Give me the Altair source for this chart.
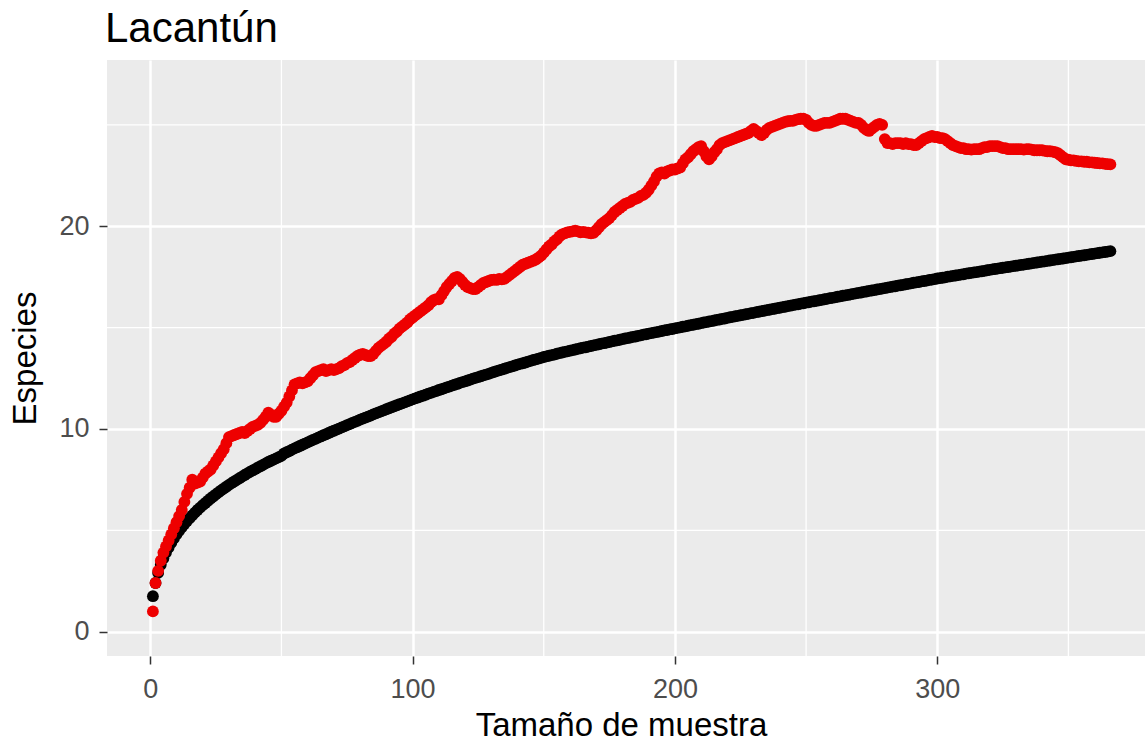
import altair as alt
import pandas as pd

# Species accumulation: expected (black) and observed (red) counts per sample size
especies_esperadas = [
    1.75, 2.40, 2.90, 3.30, 3.62, 3.90, 4.15, 4.38, 4.60, 4.80,
    4.98, 5.15, 5.31, 5.46, 5.60, 5.74, 5.87, 6.00, 6.12, 6.24,
    6.35, 6.46, 6.57, 6.67, 6.77, 6.87, 6.97, 7.06, 7.15, 7.24,
    7.33, 7.41, 7.49, 7.57, 7.65, 7.73, 7.81, 7.88, 7.95, 8.02,
    8.09, 8.16, 8.23, 8.30, 8.37, 8.43, 8.49, 8.55, 8.61, 8.67,
    8.79, 8.85, 8.91, 8.98, 9.04, 9.10, 9.16, 9.22, 9.28, 9.34,
    9.40, 9.46, 9.51, 9.57, 9.63, 9.69, 9.74, 9.80, 9.86, 9.91,
    9.97, 10.02, 10.08, 10.13, 10.19, 10.24, 10.30, 10.35, 10.40, 10.46,
    10.51, 10.56, 10.61, 10.66, 10.72, 10.77, 10.82, 10.87, 10.92, 10.97,
    11.02, 11.07, 11.12, 11.17, 11.22, 11.26, 11.31, 11.36, 11.41, 11.46,
    11.51, 11.55, 11.60, 11.64, 11.69, 11.74, 11.78, 11.83, 11.87, 11.92,
    11.96, 12.00, 12.05, 12.09, 12.14, 12.18, 12.22, 12.27, 12.31, 12.35,
    12.39, 12.43, 12.48, 12.52, 12.56, 12.60, 12.64, 12.68, 12.72, 12.77,
    12.81, 12.85, 12.89, 12.93, 12.97, 13.01, 13.05, 13.09, 13.13, 13.17,
    13.21, 13.24, 13.28, 13.32, 13.36, 13.40, 13.43, 13.47, 13.51, 13.55,
    13.58, 13.61, 13.64, 13.67, 13.71, 13.74, 13.77, 13.80, 13.83, 13.86,
    13.89, 13.92, 13.95, 13.98, 14.01, 14.03, 14.06, 14.09, 14.12, 14.15,
    14.18, 14.21, 14.23, 14.26, 14.29, 14.32, 14.35, 14.37, 14.40, 14.43,
    14.46, 14.48, 14.51, 14.54, 14.56, 14.59, 14.62, 14.65, 14.67, 14.70,
    14.73, 14.75, 14.78, 14.80, 14.83, 14.86, 14.88, 14.91, 14.93, 14.96,
    14.99, 15.01, 15.04, 15.06, 15.09, 15.12, 15.14, 15.17, 15.19, 15.22,
    15.25, 15.27, 15.30, 15.32, 15.35, 15.38, 15.40, 15.43, 15.45, 15.48,
    15.51, 15.53, 15.56, 15.58, 15.61, 15.63, 15.66, 15.68, 15.71, 15.73,
    15.76, 15.78, 15.81, 15.83, 15.86, 15.88, 15.91, 15.93, 15.96, 15.98,
    16.01, 16.03, 16.06, 16.08, 16.11, 16.13, 16.15, 16.18, 16.20, 16.23,
    16.25, 16.28, 16.30, 16.32, 16.35, 16.37, 16.40, 16.42, 16.45, 16.47,
    16.49, 16.52, 16.54, 16.57, 16.59, 16.61, 16.64, 16.66, 16.69, 16.71,
    16.73, 16.76, 16.78, 16.81, 16.83, 16.85, 16.88, 16.90, 16.92, 16.95,
    16.97, 17.00, 17.02, 17.04, 17.07, 17.09, 17.11, 17.14, 17.16, 17.18,
    17.21, 17.23, 17.25, 17.28, 17.30, 17.32, 17.35, 17.37, 17.39, 17.42,
    17.44, 17.46, 17.48, 17.51, 17.53, 17.55, 17.57, 17.59, 17.61, 17.63,
    17.66, 17.68, 17.70, 17.72, 17.74, 17.76, 17.78, 17.80, 17.83, 17.85,
    17.87, 17.89, 17.91, 17.93, 17.95, 17.97, 17.99, 18.01, 18.03, 18.05,
    18.07, 18.09, 18.11, 18.13, 18.15, 18.17, 18.19, 18.21, 18.23, 18.25,
    18.27, 18.29, 18.31, 18.33, 18.35, 18.37, 18.39, 18.41, 18.43, 18.45,
    18.47, 18.49, 18.51, 18.53, 18.55, 18.57, 18.59, 18.61, 18.63, 18.65,
    18.67, 18.69, 18.71, 18.73, 18.75, 18.77,
]

especies_observadas = [
    1.0, 2.4, 3.0, 3.5, 3.9, 4.2, 4.5, 4.8, 5.1, 5.4,
    5.7, 6.0, 6.4, 6.8, 7.1, 7.5, 7.3, 7.35, 7.4, 7.6,
    7.8, 7.9, 8.0, 8.2, 8.4, 8.6, 8.8, 9.0, 9.3, 9.6,
    9.65, 9.7, 9.75, 9.8, 9.85, 9.8, 9.9, 10.0, 10.1, 10.15,
    10.2, 10.3, 10.45, 10.6, 10.8, 10.7, 10.6, 10.6, 10.75, 10.9,
    11.1, 11.3, 11.6, 11.9, 12.2, 12.25, 12.3, 12.25, 12.3, 12.35,
    12.5, 12.65, 12.8, 12.85, 12.9, 12.95, 12.85, 12.9, 12.95, 12.9,
    12.95, 13.0, 13.1, 13.15, 13.25, 13.3, 13.4, 13.5, 13.6, 13.66,
    13.7, 13.65, 13.6, 13.6, 13.7, 13.85, 14.0, 14.1, 14.2, 14.3,
    14.45, 14.55, 14.7, 14.8, 14.95, 15.05, 15.15, 15.25, 15.4, 15.5,
    15.6, 15.7, 15.8, 15.9, 16.0, 16.1, 16.25, 16.35, 16.4, 16.4,
    16.6, 16.8, 17.0, 17.15, 17.3, 17.45, 17.5, 17.4, 17.25, 17.1,
    17.0, 16.95, 16.9, 16.9, 17.0, 17.1, 17.2, 17.25, 17.3, 17.35,
    17.37, 17.35, 17.4, 17.38, 17.4, 17.5, 17.6, 17.7, 17.8, 17.9,
    18.0, 18.1, 18.15, 18.2, 18.25, 18.3, 18.36, 18.45, 18.55, 18.7,
    18.85, 19.0, 19.1, 19.25, 19.35, 19.5, 19.6, 19.65, 19.7, 19.72,
    19.75, 19.78, 19.75, 19.7, 19.72, 19.7, 19.68, 19.65, 19.67, 19.8,
    19.95, 20.1, 20.2, 20.3, 20.4, 20.55, 20.7, 20.8, 20.9, 21.0,
    21.1, 21.15, 21.2, 21.3, 21.35, 21.4, 21.5, 21.55, 21.65, 21.8,
    22.0, 22.2, 22.45, 22.6, 22.65, 22.6, 22.7, 22.75, 22.8, 22.8,
    22.85, 22.9, 23.1, 23.3, 23.4, 23.55, 23.7, 23.8, 23.9, 23.95,
    23.7, 23.45, 23.3, 23.45, 23.65, 23.8, 24.0, 24.1, 24.15, 24.2,
    24.25, 24.3, 24.35, 24.4, 24.45, 24.5, 24.55, 24.6, 24.7, 24.8,
    24.7, 24.6, 24.5, 24.6, 24.75, 24.85, 24.9, 24.95, 25.0, 25.05,
    25.1, 25.15, 25.18, 25.2, 25.2, 25.25, 25.28, 25.3, 25.3, 25.25,
    25.1, 25.0, 24.95, 24.95, 25.0, 25.05, 25.1, 25.1, 25.1, 25.15,
    25.2, 25.25, 25.3, 25.3, 25.3, 25.25, 25.2, 25.15, 25.1, 25.1,
    25.0, 24.85, 24.75, 24.7, 24.8, 24.9, 25.0, 25.05, 25.0, 24.3,
    24.1, 24.1, 24.05, 24.1, 24.1, 24.1, 24.05, 24.1, 24.05, 24.05,
    24.0, 24.0, 24.1, 24.2, 24.3, 24.35, 24.4, 24.45, 24.4, 24.4,
    24.35, 24.35, 24.3, 24.2, 24.1, 24.0, 23.95, 23.9, 23.85, 23.85,
    23.8, 23.8, 23.78, 23.8, 23.8, 23.8, 23.85, 23.9, 23.9, 23.95,
    23.95, 23.95, 23.95, 23.9, 23.85, 23.85, 23.8, 23.8, 23.8, 23.8,
    23.8, 23.8, 23.78, 23.8, 23.8, 23.78, 23.75, 23.75, 23.75, 23.75,
    23.72, 23.7, 23.7, 23.68, 23.65, 23.6, 23.5, 23.4, 23.3, 23.28,
    23.25, 23.25, 23.22, 23.2, 23.2, 23.18, 23.18, 23.15, 23.15, 23.13,
    23.12, 23.1, 23.1, 23.08, 23.06, 23.05,
]

x_ticks = [0, 100, 200, 300]
y_ticks = [0, 10, 20]
x_minor = [50, 150, 250, 350]
y_minor = [5, 15, 25]
titulo = "Lacantún"

FONT = "Liberation Sans"
POINT_SIZE = 140

esperadas = pd.DataFrame({
    "n": list(range(1, len(especies_esperadas) + 1)),
    "s": especies_esperadas,
})
observadas = pd.DataFrame({
    "n": list(range(1, len(especies_observadas) + 1)),
    "s": especies_observadas,
})

x_scale = alt.Scale(domain=[-16.5, 379.2], nice=False, zero=False)
y_scale = alt.Scale(domain=[-1.2, 28.2], nice=False, zero=False)

x_axis = alt.Axis(
    values=x_ticks, title="Tamaño de muestra", grid=True,
    titleX=514, titleY=79, titleAlign="center", titleBaseline="alphabetic",
)
y_axis = alt.Axis(
    values=y_ticks, title="Especies", grid=True,
    titleX=-72, titleY=298, titleAlign="center", titleBaseline="alphabetic",
    titleAngle=270,
)

minor_v = alt.Chart(pd.DataFrame({"v": x_minor})).mark_rule(
    color="white", strokeWidth=1.3
).encode(x=alt.X("v:Q", scale=x_scale, axis=x_axis))

minor_h = alt.Chart(pd.DataFrame({"h": y_minor})).mark_rule(
    color="white", strokeWidth=1.3
).encode(y=alt.Y("h:Q", scale=y_scale, axis=y_axis))

puntos_esp = alt.Chart(esperadas).mark_circle(
    size=POINT_SIZE, opacity=1, color="#000000"
).encode(
    x=alt.X("n:Q", scale=x_scale, axis=x_axis),
    y=alt.Y("s:Q", scale=y_scale, axis=y_axis),
)

puntos_obs = alt.Chart(observadas).mark_circle(
    size=POINT_SIZE, opacity=1, color="#ee0000"
).encode(
    x=alt.X("n:Q", scale=x_scale, axis=x_axis),
    y=alt.Y("s:Q", scale=y_scale, axis=y_axis),
)

# Plot title, left-aligned just above the panel
encabezado = alt.Chart(pd.DataFrame({"t": [titulo]})).mark_text(
    align="left", baseline="alphabetic", font=FONT, fontSize=42,
    color="#000000",
).encode(text="t:N", x=alt.value(-2), y=alt.value(-18))

chart = (
    alt.layer(minor_v, minor_h, puntos_esp, puntos_obs, encabezado)
    .properties(
        width=1038,
        height=596,
        autosize=alt.AutoSizeParams(type="none"),
        padding={"left": 107, "top": 60, "right": 0, "bottom": 86},
        background="white",
    )
    .configure_view(fill="#EBEBEB", strokeWidth=0)
    .configure_axis(
        domain=False,
        gridColor="white",
        gridWidth=2.5,
        tickColor="#333333",
        tickWidth=1.5,
        tickSize=8,
        labelFont=FONT,
        labelFontSize=27,
        labelColor="#4D4D4D",
        titleFont=FONT,
        titleFontSize=33,
        titleFontWeight="normal",
        titleColor="#000000",
    )
    .configure_axisX(labelPadding=12)
    .configure_axisY(labelPadding=10)
)

chart.save("out.html", embed_options={"renderer": "svg", "actions": False})
